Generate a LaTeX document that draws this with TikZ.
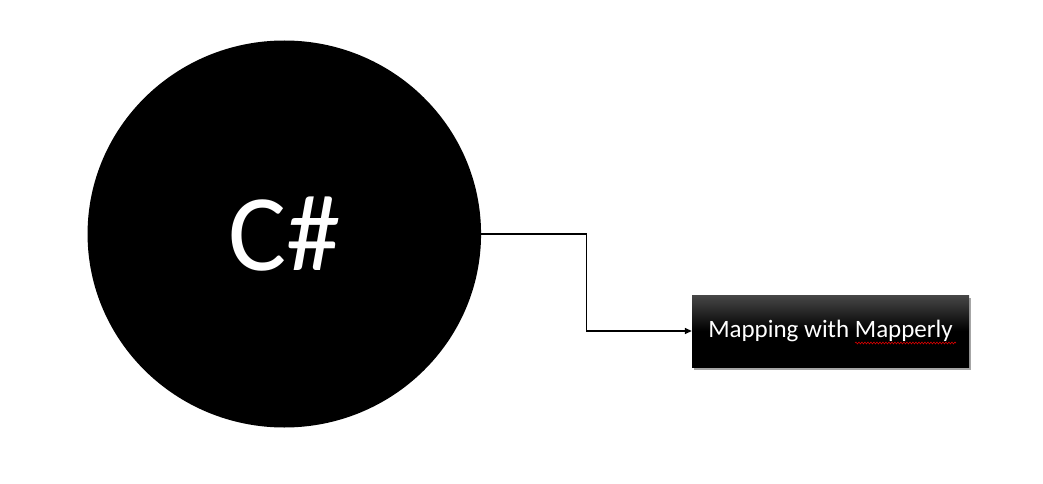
\documentclass[tikz,border=0pt]{standalone}
\usepackage{fontspec}
\setmainfont{Carlito}
\usetikzlibrary{arrows.meta,shadows,decorations.pathmorphing,shapes.geometric}
\begin{document}
\begin{tikzpicture}[x=1pt,y=-1pt,
  bigcircle/.style={ellipse,fill=black,draw=none,minimum width=393.5pt,minimum height=387pt,inner sep=0pt,text=white,font=\fontsize{109}{109}\selectfont},
  mapbox/.style={rectangle,minimum width=277pt,minimum height=72pt,inner sep=0pt,text=white,
    top color=black!72,bottom color=black,middle color=black,shading angle=0,
    drop shadow={shadow xshift=2pt,shadow yshift=-3pt,opacity=0.35,fill=black},
    font=\fontsize{25}{25}\selectfont},
  conn/.style={draw=black,line width=1.4pt,-{Triangle[length=7pt,width=6pt]}}
]
\useasboundingbox (0,0) rectangle (1043,484);
\node[bigcircle] (cs) at (284.3,234) {C\#};
\node[mapbox] (mb) at (830.5,331) {Mapping with Mapperly};
\coordinate (k1) at (586.5,234);
\draw[conn] (cs.east) -- (k1) |- (mb.west);
\coordinate (s1) at (855,343);
\coordinate (s2) at (956,343);
\draw[red!85!black,line width=0.6pt,decorate,decoration={snake,amplitude=0.9pt,segment length=3pt}] (s1) -- (s2);
\end{tikzpicture}
\end{document}
